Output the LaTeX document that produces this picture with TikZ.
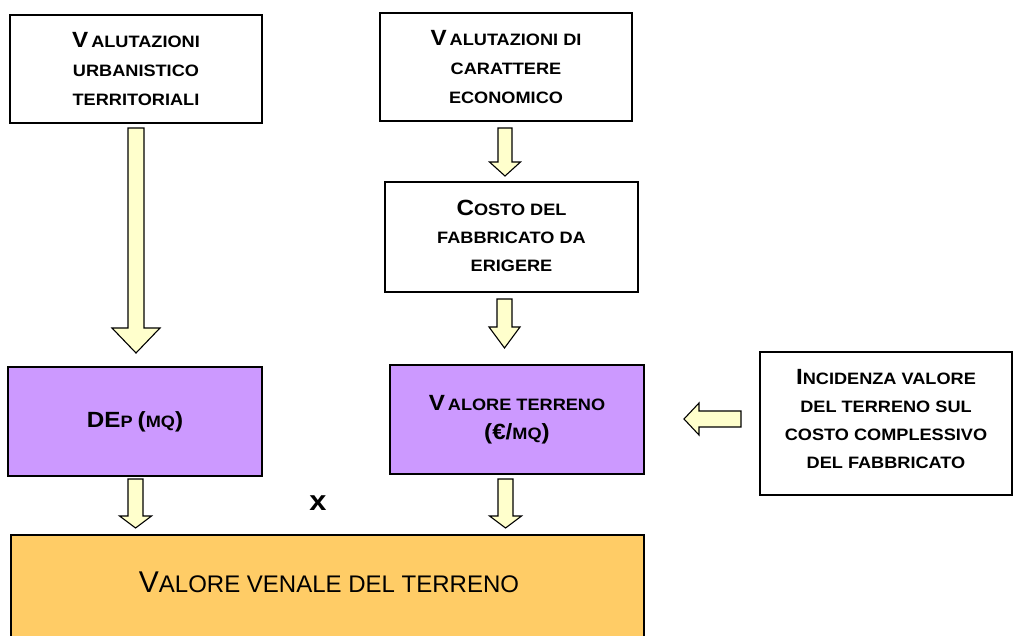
\documentclass[tikz,border=0pt]{standalone}
\usepackage{fontspec}
\newfontfamily\boxfont{Liberation Sans}[FakeStretch=1.1]
\newfontfamily\plainfont{Liberation Sans}
\definecolor{lilac}{HTML}{CC99FF}
\definecolor{amber}{HTML}{FFCC66}
\definecolor{cream}{HTML}{FFFFCC}
\newcommand\Lg[1]{{\fontsize{22}{22}\selectfont #1}}
\newcommand\Vg[1]{{\fontsize{30}{30}\selectfont #1}}
\newcommand\downblock[6]{\draw[blockarrow] (#1-#5,#2) -- (#1+#5,#2) -- (#1+#5,#3) -- (#1+#6,#3) -- (#1,#4) -- (#1-#6,#3) -- (#1-#5,#3) -- cycle;}
\tikzset{
  box/.style={draw=black, line width=1.2pt, inner sep=0pt, align=center,
    font=\boxfont\bfseries\fontsize{16.5}{29}\selectfont},
  whitebox/.style={box, fill=white},
  purplebox/.style={box, fill=lilac},
  orangebox/.style={draw=black, line width=1.2pt, inner sep=0pt, fill=amber},
  plaintext/.style={inner sep=0pt, align=center, font=\plainfont\fontsize{24}{24}\selectfont},
  boldtext/.style={inner sep=0pt, align=center, font=\boxfont\bfseries\fontsize{16.5}{28}\selectfont},
  blockarrow/.style={draw=black, line width=1.1pt, fill=cream, line join=miter},
  tight/.style={font=\boxfont\bfseries\fontsize{16.5}{27}\selectfont}
}
\begin{document}
\begin{tikzpicture}[x=1pt,y=-1pt]
\clip (0,0) rectangle (1013,636);
\fill[white] (0,0) rectangle (1013,636);
% boxes
\node[whitebox, minimum width=252, minimum height=108] (vu) at (136,69)
  {\Lg{V}\hspace{3pt}ALUTAZIONI\\URBANISTICO\\TERRITORIALI};
\node[whitebox, minimum width=252, minimum height=108] (ve) at (506,67)
  {\Lg{V}\hspace{3pt}ALUTAZIONI DI\\CARATTERE\\ECONOMICO};
\node[whitebox, minimum width=253, minimum height=110] (cf) at (511.5,237) {};
\node[boldtext] (cftext) at ([yshift=1pt]cf.center)
  {\Lg{C}OSTO DEL\\FABBRICATO DA\\ERIGERE};
\node[purplebox, minimum width=254, minimum height=109] (dep) at (135,421.5)
  {\Lg{DE}P \Lg{(}MQ\Lg{)}};
\node[purplebox, minimum width=254, minimum height=109] (vt) at (517,419.5)
  {\Lg{V}\hspace{3pt}ALORE TERRENO\\\Lg{(€/}MQ\Lg{)}};
\node[whitebox, minimum width=252, minimum height=143] (inc) at (886,423.5) {};
\node[boldtext] (inctext) at ([yshift=4pt]inc.center)
  {\Lg{I}NCIDENZA VALORE\\DEL TERRENO SUL\\COSTO COMPLESSIVO\\DEL FABBRICATO};
\node[orangebox, minimum width=633, minimum height=112] (vv) at (327.5,591) {};
\node[plaintext] (vvtext) at (329,582) {\Vg{V}ALORE VENALE DEL TERRENO};
% multiplication sign
\node[font=\boxfont\bfseries\fontsize{28}{28}\selectfont] (times) at (318,503) {x};
% block arrows
\downblock{136}{128}{328}{353}{8}{24}
\downblock{505}{128}{162}{176}{7}{15.5}
\downblock{504.5}{299}{327}{348}{7.5}{15.5}
\downblock{135.5}{479}{516}{528}{7.5}{16}
\downblock{505.5}{479}{516}{528}{7.5}{16}
\draw[blockarrow] (741,411) -- (741,427) -- (699,427) -- (699,435) -- (684,419) -- (699,403) -- (699,411) -- cycle;
\end{tikzpicture}
\end{document}
